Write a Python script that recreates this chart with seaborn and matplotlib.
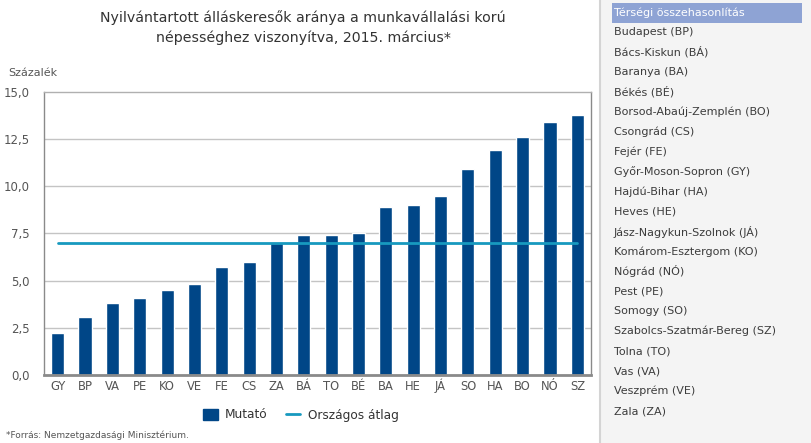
import matplotlib
matplotlib.use("Agg")
import matplotlib.pyplot as plt
import matplotlib.patches as mpatches
from matplotlib.lines import Line2D
import seaborn as sns
import pandas as pd
import numpy as np

# ---- data ----
codes = ["GY", "BP", "VA", "PE", "KO", "VE", "FE", "CS", "ZA", "BÁ",
         "TO", "BÉ", "BA", "HE", "JÁ", "SO", "HA", "BO", "NÓ", "SZ"]
values = [2.2, 3.1, 3.8, 4.1, 4.5, 4.8, 5.7, 6.0, 7.0, 7.4,
          7.4, 7.5, 8.9, 9.0, 9.5, 10.9, 11.9, 12.6, 13.4, 13.8]
national_avg = 7.0
yticks = [0.0, 2.5, 5.0, 7.5, 10.0, 12.5, 15.0]
title_lines = ["Nyilvántartott álláskeresők aránya a munkavállalási korú",
               "népességhez viszonyítva, 2015. március*"]
sidebar_header = "Térségi összehasonlítás"
sidebar_items = ["Budapest (BP)", "Bács-Kiskun (BÁ)", "Baranya (BA)", "Békés (BÉ)",
                 "Borsod-Abaúj-Zemplén (BO)", "Csongrád (CS)", "Fejér (FE)",
                 "Győr-Moson-Sopron (GY)", "Hajdú-Bihar (HA)", "Heves (HE)",
                 "Jász-Nagykun-Szolnok (JÁ)", "Komárom-Esztergom (KO)", "Nógrád (NÓ)",
                 "Pest (PE)", "Somogy (SO)", "Szabolcs-Szatmár-Bereg (SZ)", "Tolna (TO)",
                 "Vas (VA)", "Veszprém (VE)", "Zala (ZA)"]
legend_labels = ["Mutató", "Országos átlag"]

BAR = "#004687"
LINE = "#1799bf"
GREY_TXT = "#555555"
AX_GREY = "#8a8a8a"

sns.set_theme(style="white")
plt.rcParams['font.family'] = ['DejaVu Sans']

W, H = 811, 443
fig = plt.figure(figsize=(W / 100, H / 100), dpi=100)
fig.patch.set_facecolor("white")

# sidebar panel
panel = fig.add_axes([600 / W, 0, (W - 600) / W, 1])
panel.set_xlim(600, W)
panel.set_ylim(H, 0)
panel.set_facecolor("#f4f4f4")
for s in panel.spines.values():
    s.set_visible(False)
panel.spines['left'].set_visible(True)
panel.spines['left'].set_color("#d4d4d4")
panel.spines['left'].set_linewidth(1.5)
panel.set_xticks([])
panel.set_yticks([])
panel.add_patch(mpatches.Rectangle((612, 3), 190, 19.5, color="#8ea3d4", lw=0))
panel.text(614, 13, sidebar_header, color="white", fontsize=8, va="center", ha="left")
for i, item in enumerate(sidebar_items):
    panel.text(614, 32 + i * 19.95, item, color="#3c3c3c", fontsize=8,
               va="center", ha="left")

# main chart
ax = fig.add_axes([44 / W, 1 - 375 / H, 547 / W, 283 / H])
df = pd.DataFrame({"code": codes, "value": values})
ax.set_axisbelow(True)
for yv in yticks[1:-1]:
    ax.axhline(yv, color="#c4c4c4", lw=1, zorder=0)
sns.barplot(data=df, x="code", y="value", color=BAR, saturation=1, width=0.48, ax=ax, zorder=2)
avg_df = pd.DataFrame({"code": codes, "avg": [national_avg] * len(codes)})
sns.lineplot(data=avg_df, x="code", y="avg", color=LINE, lw=2, sort=False, ax=ax, zorder=3)

ax.set_xlim(-0.5, len(codes) - 0.5)
ax.set_ylim(0, 15)
ax.set_yticks(yticks)
ax.set_yticklabels([f"{v:.1f}".replace(".", ",") for v in yticks])
ax.set_xlabel("")
ax.set_ylabel("")
ax.set_xticks(range(len(codes)))
ax.set_xticklabels(codes)
for lbl in ax.get_xticklabels():
    lbl.set_verticalalignment("baseline")
ax.set_xticks(np.arange(-0.5, len(codes)), minor=True)
ax.tick_params(axis="x", which="major", length=0, pad=11, labelsize=8.3, labelcolor=GREY_TXT)
ax.tick_params(axis="x", which="minor", length=5, width=1.5, color=AX_GREY, direction="out")
ax.tick_params(axis="y", which="major", length=7, width=1, color=AX_GREY, direction="out",
               labelsize=8.5, labelcolor=GREY_TXT, pad=3)
for name, s in ax.spines.items():
    s.set_visible(True)
    s.set_color(AX_GREY)
    s.set_linewidth(1)
ax.spines['bottom'].set_linewidth(2)
ax.spines['top'].set_color("#b0b0b0")

# texts
fig.text(303 / W, 1 - 18 / H, title_lines[0], ha="center", va="center", fontsize=10.2, color="#333333")
fig.text(303 / W, 1 - 38 / H, title_lines[1], ha="center", va="center", fontsize=10.2, color="#333333")
fig.text(8 / W, 1 - 73 / H, "Százalék", ha="left", va="center", fontsize=8, color=GREY_TXT)
fig.text(6 / W, 1 - 435 / H, "*Forrás: Nemzetgazdasági Minisztérium.", ha="left", va="center",
         fontsize=6.5, color=GREY_TXT)

handles = [mpatches.Patch(color=BAR), Line2D([0], [0], color=LINE, lw=2)]
fig.legend(handles, legend_labels, loc="center", bbox_to_anchor=(301 / W, 1 - 415 / H), ncol=2,
           frameon=False, fontsize=8.7, handlelength=1.2, handleheight=1.1, columnspacing=1.5,
           handletextpad=0.6, labelcolor="#333333")

fig.savefig("out.png", dpi=100, facecolor="white")
